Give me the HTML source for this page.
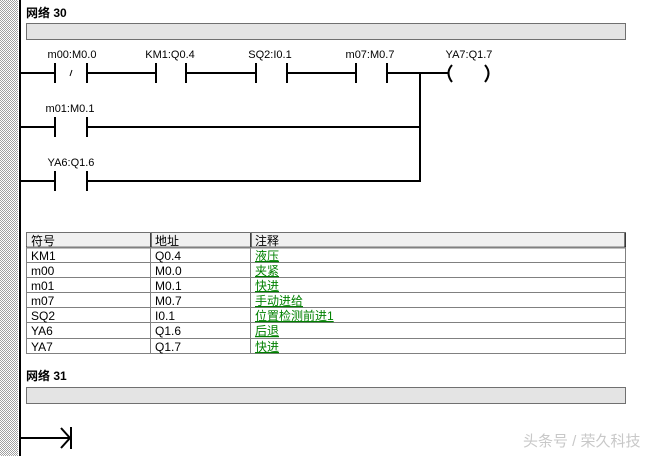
<!DOCTYPE html>
<html><head><meta charset="utf-8"><style>
body{margin:0;width:670px;height:456px;overflow:hidden;background:#fff;font-family:"Liberation Sans","Noto Sans CJK SC",sans-serif;}
</style></head><body>
<svg width="670" height="456" xmlns="http://www.w3.org/2000/svg" style="position:absolute;left:0;top:0">
<defs><pattern id="h" width="2" height="2" patternUnits="userSpaceOnUse"><rect width="2" height="2" fill="#fff"/><rect width="1" height="1" fill="#a0a0a0"/><rect x="1" y="1" width="1" height="1" fill="#a0a0a0"/></pattern></defs>
<rect x="0" y="0" width="18" height="456" fill="url(#h)"/>
<rect x="19" y="0" width="2" height="456" fill="#000"/>
<g font-family="Liberation Sans,Noto Sans CJK SC,sans-serif">
<text x="26" y="17" font-size="12" font-weight="bold">网络 30</text>
<rect x="26.5" y="23.5" width="599" height="16" fill="#e4e4e4" stroke="#707070"/>
<g stroke="#000" stroke-width="2" fill="none">
<path d="M21 73H54M56 73M86 73H155M185 73H255M286 73H355M386 73H448M21 127H54M86 127H420M21 181H54M86 181H420M420 72V182"/>
<path d="M55 63V83M87 63V83M156 63V83M186 63V83M256 63V83M287 63V83M356 63V83M387 63V83M55 117V137M87 117V137M55 171V181M55 171V191M87 171V191"/>
<path d="M452 65Q445 73 452 82M485 65Q492 73 485 82"/>
</g>
<path d="M70 76L72 70" stroke="#000" stroke-width="1"/>
<g font-size="11" text-anchor="middle" fill="#000">
<text x="72" y="58">m00:M0.0</text><text x="170" y="58">KM1:Q0.4</text><text x="270" y="58">SQ2:I0.1</text><text x="370" y="58">m07:M0.7</text><text x="469" y="58">YA7:Q1.7</text>
<text x="70" y="112">m01:M0.1</text><text x="71" y="166">YA6:Q1.6</text>
</g>
<rect x="26.5" y="232.5" width="599" height="15" fill="#f0f0f0" stroke="#707070"/>
<path d="M26 247.5H626" stroke="#000" stroke-width="1.5"/>
<g stroke="#808080" fill="none">
<rect x="26.5" y="247.5" width="599" height="106"/>
<path d="M26 262.5H626M26 277.5H626M26 292.5H626M26 307.5H626M26 322.5H626M26 338.5H626M150.5 232V353M250.5 232V353"/>
</g>
<path d="M151 233V247M251 233V247M625 233V247" stroke="#000" stroke-width="1"/>
<g font-size="12" fill="#000">
<text x="31" y="245">符号</text><text x="155" y="245">地址</text><text x="255" y="245">注释</text>
<text x="31" y="260">KM1</text><text x="155" y="260">Q0.4</text>
<text x="31" y="275">m00</text><text x="155" y="275">M0.0</text>
<text x="31" y="290">m01</text><text x="155" y="290">M0.1</text>
<text x="31" y="305">m07</text><text x="155" y="305">M0.7</text>
<text x="31" y="320">SQ2</text><text x="155" y="320">I0.1</text>
<text x="31" y="335">YA6</text><text x="155" y="335">Q1.6</text>
<text x="31" y="351">YA7</text><text x="155" y="351">Q1.7</text>
</g>
<g font-size="12" fill="#008000" text-decoration="underline">
<text x="255" y="260">液压</text><text x="255" y="275">夹紧</text><text x="255" y="290">快进</text><text x="255" y="305">手动进给</text><text x="255" y="320">位置检测前进1</text><text x="255" y="335">后退</text><text x="255" y="351">快进</text>
</g>
<text x="26" y="380" font-size="12" font-weight="bold">网络 31</text>
<rect x="26.5" y="387.5" width="599" height="16" fill="#e4e4e4" stroke="#707070"/>
<path d="M21 438H70M61 428L70 438L61 448M71 427V449" stroke="#000" stroke-width="2" fill="none"/>
<text x="523" y="446" font-size="15" fill="#c8c8c8">头条号 / 荣久科技</text>
</g>
</svg>
</body></html>
